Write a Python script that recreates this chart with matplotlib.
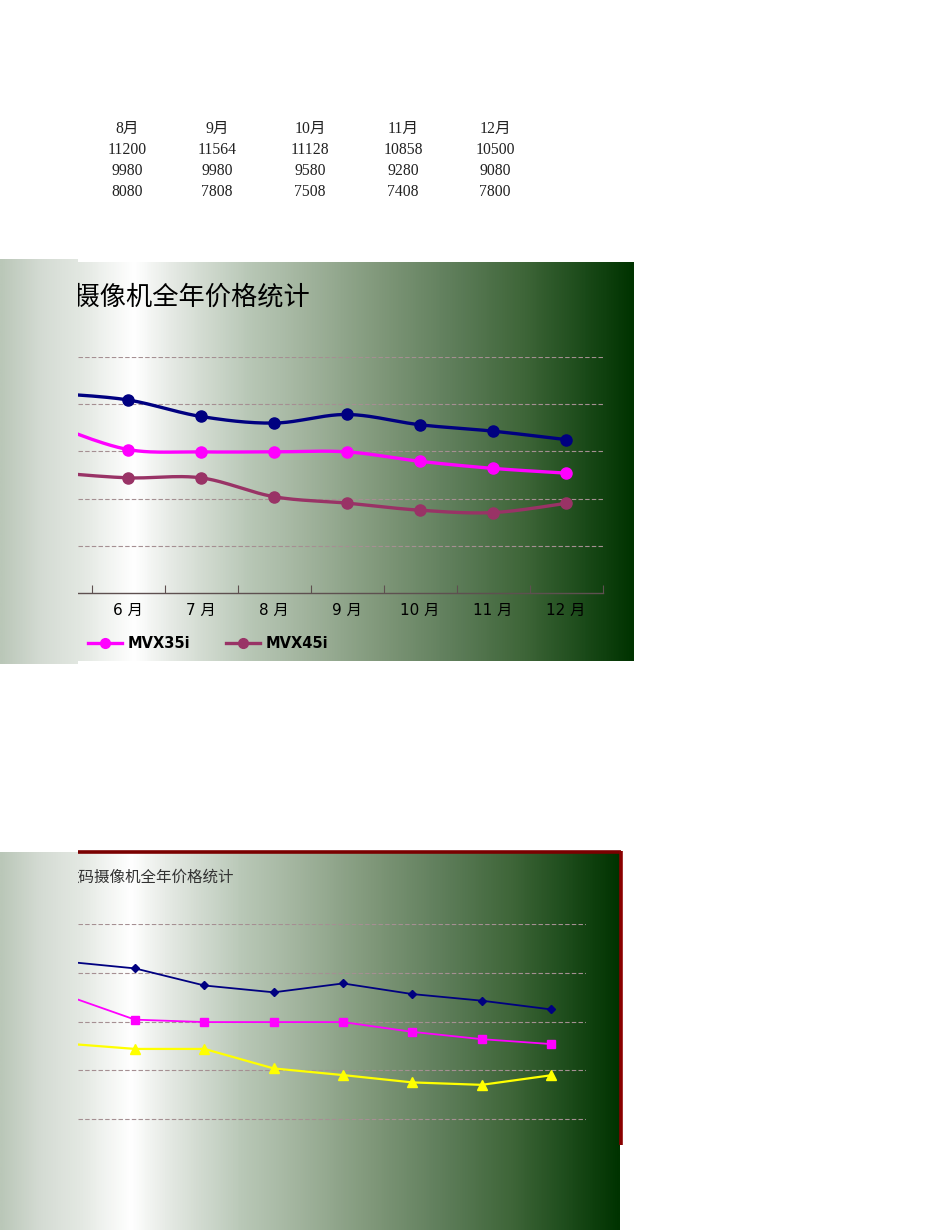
import numpy as np
import matplotlib
matplotlib.use('Agg')
import matplotlib.pyplot as plt
from matplotlib.colors import LinearSegmentedColormap
from matplotlib.lines import Line2D

# ---------------- data ----------------
months = ['5月', '6月', '7月', '8月', '9月', '10月', '11月', '12月']
series_top = [12460, 12180, 11480, 11200, 11564, 11128, 10858, 10500]
mvx35i = [11080, 10080, 9980, 9980, 9980, 9580, 9280, 9080]
mvx45i = [9100, 8880, 8880, 8080, 7808, 7508, 7408, 7800]
legend_names = ['MVX35i', 'MVX45i']
title_text = '数码摄像机全年价格统计'

table_months = ['8月', '9月', '10月', '11月', '12月']
table_row1 = [11200, 11564, 11128, 10858, 10500]
table_row2 = [9980, 9980, 9580, 9280, 9080]
table_row3 = [8080, 7808, 7508, 7408, 7800]

grid_vals = [6000, 8000, 10000, 12000, 14000]

# ---------------- figure ----------------
W, H = 950, 1230
fig = plt.figure(figsize=(W / 100, H / 100), dpi=100)
fig.patch.set_facecolor('white')

CJK = ['Noto Sans CJK SC', 'DejaVu Sans']
SERIF = ['Liberation Serif', 'Noto Sans CJK SC']
TICKF = ['DejaVu Sans', 'Noto Sans CJK SC']


def px_axes(x0, y0, x1, y1, z=0):
    ax = fig.add_axes([x0 / W, 1 - y1 / H, (x1 - x0) / W, (y1 - y0) / H])
    ax.set_zorder(z)
    return ax


bg = px_axes(0, 0, W, H, 0)
bg.axis('off')

stops = [(0, '#bac7b8'), (40, '#d4dbd3'), (80, '#e3e8e2'), (132, '#ffffff'),
         (175, '#e2e7e1'), (245, '#b9c8b7'), (300, '#a3b59f'), (380, '#7f9779'),
         (450, '#5f7e5b'), (520, '#3f6639'), (580, '#1c4b1a'), (630, '#003300')]
cmap = LinearSegmentedColormap.from_list('g', [(p / 630, c) for p, c in stops])


def gradient(ax, x0, x1, y0, y1, scale=1.0):
    xs = np.linspace(x0, x1, 500) * scale / 630
    img = cmap(np.clip(xs, 0, 1))[None, :, :3]
    ax.imshow(img, extent=(x0, x1, y1, y0), aspect='auto', interpolation='bilinear')


gradient(bg, 0, 634, 262, 661, 630 / 634)
gradient(bg, 0, 620, 853, 1230, 630 / 620)
bg.set_xlim(0, W)
bg.set_ylim(H, 0)

# ---------------- table ----------------
col_x = [127, 217, 310, 403, 495]
row_y = [129, 150, 171, 192]
rows = [table_months, table_row1, table_row2, table_row3]
for r, vals in enumerate(rows):
    for c, v in enumerate(vals):
        bg.text(col_x[c], row_y[r], str(v), ha='center', va='center',
                fontsize=11.3, family=SERIF, color='#222222')

# ---------------- chart 1 ----------------
bg.text(21.5, 297, title_text, ha='left', va='center', fontsize=18.9,
        family=CJK, color='black', zorder=3)

x = np.arange(len(months))
ax1 = px_axes(78, 357, 602.5, 593, 2)
ax1.set_facecolor('none')
for s in ['top', 'right', 'left']:
    ax1.spines[s].set_visible(False)
ax1.spines['bottom'].set_color('#5e5050')
ax1.spines['bottom'].set_linewidth(1.0)
ax1.set_yticks(grid_vals)
ax1.tick_params(axis='y', left=False, labelleft=False)
ax1.set_xticks(np.arange(-0.5, len(months), 1.0))
ax1.set_xticklabels([])
ax1.tick_params(axis='x', which='major', direction='in', length=6, color='#5e5050')
ax1.set_xticks(x, minor=True)
ax1.set_xticklabels([m.replace('月', ' 月') for m in months], minor=True,
                    fontsize=11, family=TICKF)
ax1.tick_params(axis='x', which='minor', length=0, pad=7, labelcolor='black')
ax1.set_xlim(1 - 50 / 73, 7.5)
ax1.set_ylim(4000, 14000)
for g in grid_vals:
    ax1.axhline(g, color='#a58f92', lw=0.8, ls=(0, (4, 2)), zorder=1)


def smooth(ax, xs, ys, n=24):
    pts = ax.transData.transform(np.column_stack([xs, ys]))
    P = np.vstack([pts[0], pts, pts[-1]])
    out = []
    for i in range(1, len(P) - 2):
        p0, p1, p2, p3 = P[i - 1], P[i], P[i + 1], P[i + 2]
        c1 = p1 + (p2 - p0) / 6
        c2 = p2 - (p3 - p1) / 6
        t = np.linspace(0, 1, n)[:, None]
        seg = (1 - t) ** 3 * p1 + 3 * (1 - t) ** 2 * t * c1 + 3 * (1 - t) * t ** 2 * c2 + t ** 3 * p2
        out.append(seg if i == 1 else seg[1:])
    d = ax.transData.inverted().transform(np.vstack(out))
    return d[:, 0], d[:, 1]


colors1 = ['#000080', '#ff00ff', '#993366']
for vals, col in zip([series_top, mvx35i, mvx45i], colors1):
    sx, sy = smooth(ax1, x, vals)
    ax1.plot(sx, sy, color=col, lw=2.4, zorder=3, solid_capstyle='round')
    ax1.plot(x, vals, 'o', color=col, ms=8, zorder=4)

handles = [Line2D([], [], color=c, lw=2.4, marker='o', ms=7) for c in colors1[1:]]
fig.legend(handles, legend_names, loc='center left',
           bbox_to_anchor=(88 / W, 1 - 644 / H), ncol=2, frameon=False,
           borderpad=0, borderaxespad=0, handlelength=2.3, handletextpad=0.4,
           columnspacing=2.5, prop={'family': 'DejaVu Sans', 'weight': 'bold', 'size': 10.5})

# ---------------- chart 2 ----------------
bg.text(63.5, 877, title_text, ha='left', va='center', fontsize=11.2,
        family=CJK, color='#333333', zorder=3)
bg.plot([78, 621], [851.5, 851.5], color='#7a0000', lw=2.6, solid_capstyle='butt', zorder=4)
bg.plot([620.5, 620.5], [851, 1145], color='#8a0000', lw=2.6, solid_capstyle='butt', zorder=4)

ax2 = px_axes(78, 924, 585.7, 1168, 2)
ax2.set_facecolor('none')
ax2.axis('off')
ax2.set_xlim(1 - 57 / 69.33, 7.5)
ax2.set_ylim(4000, 14000)
for g in grid_vals:
    ax2.axhline(g, color='#a58f92', lw=0.8, ls=(0, (4, 2)), zorder=1)
ax2.plot(x, series_top, color='#000080', lw=1.3, marker='D', ms=4.5, zorder=3)
ax2.plot(x, mvx35i, color='#ff00ff', lw=1.3, marker='s', ms=6, zorder=3)
ax2.plot(x, mvx45i, color='#ffff00', lw=1.6, marker='^', ms=6.5, zorder=3)

# ---------------- left strip (frozen column) ----------------
strip = px_axes(0, 0, 78, H, 5)
strip.axis('off')
strip.patch.set_visible(False)
gradient(strip, 0, 78, 259, 664, 630 / 634)
gradient(strip, 0, 78, 852, 1230, 630 / 620)
strip.set_xlim(0, 78)
strip.set_ylim(H, 0)

fig.savefig('out.png', dpi=100, facecolor='white')
